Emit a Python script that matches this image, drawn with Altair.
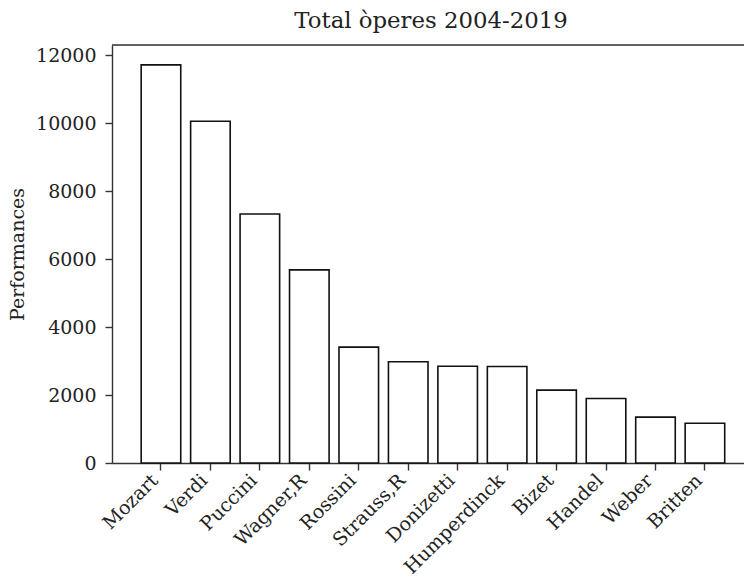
import altair as alt
import pandas as pd

# Total opera performances per composer, 2004-2019
composers = ["Mozart", "Verdi", "Puccini", "Wagner,R", "Rossini", "Strauss,R",
             "Donizetti", "Humperdinck", "Bizet", "Handel", "Weber", "Britten"]
performances = [11720, 10060, 7330, 5685, 3410, 2980, 2850, 2843, 2145, 1900, 1350, 1170]
y_ticks = [0, 2000, 4000, 6000, 8000, 10000, 12000]

df = pd.DataFrame({"composer": composers, "performances": performances})

FONT = "DejaVu Serif"
LABEL_SIZE = 19
W, H = 632, 418
y_max = max(performances) * 1.05

bars = alt.Chart(df).mark_bar(
    fill="white", stroke="#111111", strokeWidth=1.6
).encode(
    x=alt.X(
        "composer:N",
        sort=composers,
        scale=alt.Scale(paddingInner=0.2, paddingOuter=0.49, align=0.602),
        axis=alt.Axis(
            title=None, labelAngle=-45, labelAlign="right", labelBaseline="middle",
            labelFont=FONT, labelFontSize=LABEL_SIZE, labelColor="#222222",
            labelPadding=7, labelOffset=-6, tickSize=7, tickColor="#333333",
            tickWidth=1.4, domainColor="#333333", domainWidth=1.4, labelOverlap=False,
        ),
    ),
    y=alt.Y(
        "performances:Q",
        scale=alt.Scale(domain=[0, y_max], nice=False, zero=True),
        axis=alt.Axis(
            title="Performances", values=y_ticks, format="d", grid=False,
            labelFont=FONT, labelFontSize=LABEL_SIZE, labelColor="#222222",
            labelPadding=9, tickSize=7, tickColor="#333333", tickWidth=1.4,
            domainColor="#333333", domainWidth=1.4,
            titleFont=FONT, titleFontSize=LABEL_SIZE, titleFontWeight="normal",
            titleColor="#222222", titlePadding=8,
        ),
    ),
)

# top spine of the axes frame
top_line = alt.Chart(alt.Data(values=[{}])).mark_rule(
    color="#333333", strokeWidth=1.4
).encode(y=alt.value(0), x=alt.value(0), x2=alt.value(W))

chart = alt.layer(bars, top_line).properties(
    width=W,
    height=H,
    title=alt.TitleParams(
        "Total òperes 2004-2019", font=FONT, fontSize=22.8, fontWeight="normal",
        color="#222222", anchor="middle", dx=3, offset=12,
    ),
    autosize=alt.AutoSizeParams(type="none"),
    padding={"left": 112, "top": 45, "right": 0, "bottom": 577 - 45 - H},
).configure_view(stroke=None).configure(background="white")

chart.save("out.html", embed_options={"renderer": "svg", "actions": False})
